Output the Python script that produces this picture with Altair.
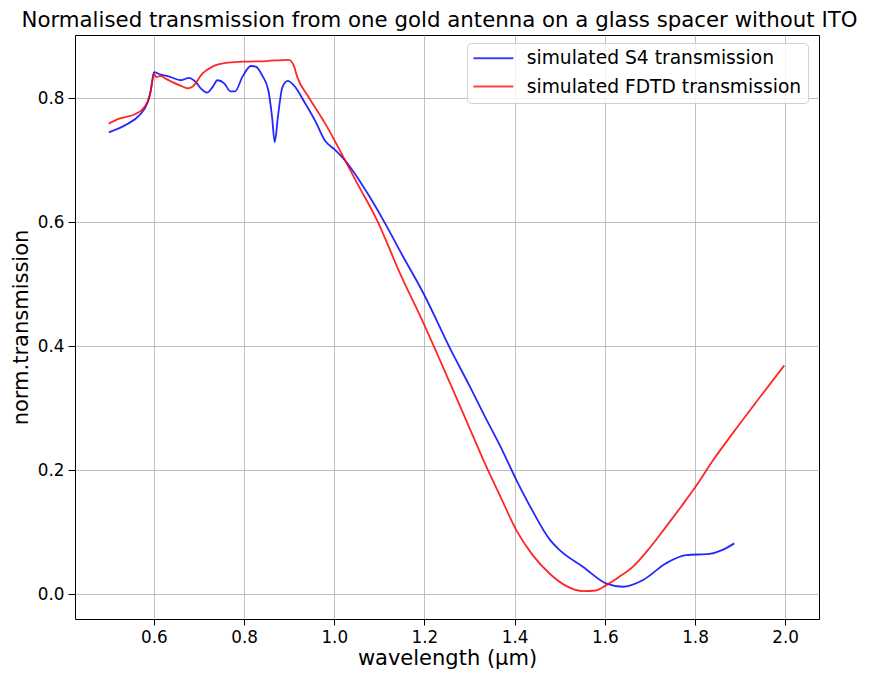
import altair as alt
import pandas as pd

s4_x = [0.50, 0.54, 0.567, 0.586, 0.593, 0.600, 0.615, 0.634, 0.660, 0.678, 0.693, 0.705, 0.718, 0.730,
        0.741, 0.756, 0.770, 0.780, 0.796, 0.815, 0.826, 0.840, 0.854, 0.862, 0.868, 0.875, 0.885,
        0.897, 0.910, 0.936, 0.958, 0.980, 1.000, 1.020, 1.043, 1.075, 1.109, 1.150, 1.198, 1.257,
        1.300, 1.331, 1.370, 1.404, 1.440, 1.478, 1.500, 1.552, 1.604, 1.640, 1.685, 1.736, 1.780,
        1.832, 1.860, 1.887]
s4_y = [0.745, 0.758, 0.772, 0.793, 0.812, 0.842, 0.838, 0.835, 0.829, 0.833, 0.826, 0.815, 0.809, 0.818,
        0.829, 0.824, 0.811, 0.811, 0.834, 0.852, 0.851, 0.837, 0.812, 0.770, 0.729, 0.770, 0.818,
        0.828, 0.821, 0.791, 0.763, 0.731, 0.718, 0.703, 0.681, 0.645, 0.603, 0.548, 0.485, 0.396,
        0.336, 0.291, 0.236, 0.184, 0.134, 0.088, 0.071, 0.044, 0.017, 0.012, 0.023, 0.050, 0.063,
        0.065, 0.071, 0.082]

fdtd_x = [0.50, 0.523, 0.560, 0.579, 0.590, 0.601, 0.605, 0.615, 0.625, 0.641, 0.660, 0.675, 0.686,
          0.708, 0.730, 0.759, 0.796, 0.850, 0.899, 0.910, 0.918, 0.943, 0.980, 1.013, 1.050, 1.095,
          1.146, 1.198, 1.257, 1.300, 1.331, 1.370, 1.404, 1.440, 1.478, 1.515, 1.552, 1.580, 1.604,
          1.630, 1.662, 1.700, 1.736, 1.770, 1.802, 1.840, 1.883, 1.940, 1.998]
fdtd_y = [0.759, 0.767, 0.775, 0.786, 0.802, 0.839, 0.834, 0.836, 0.832, 0.826, 0.820, 0.816, 0.819,
          0.840, 0.851, 0.857, 0.859, 0.860, 0.862, 0.853, 0.834, 0.802, 0.759, 0.715, 0.664, 0.603,
          0.517, 0.437, 0.340, 0.268, 0.216, 0.155, 0.103, 0.063, 0.033, 0.013, 0.005, 0.006, 0.015,
          0.027, 0.044, 0.075, 0.109, 0.142, 0.174, 0.216, 0.259, 0.314, 0.369]

labels = ["simulated S4 transmission", "simulated FDTD transmission"]
x_ticks = [0.6, 0.8, 1.0, 1.2, 1.4, 1.6, 1.8, 2.0]
y_ticks = [0.0, 0.2, 0.4, 0.6, 0.8]

df = pd.concat([
    pd.DataFrame({"wl": s4_x, "t": s4_y, "series": labels[0], "order": range(len(s4_x))}),
    pd.DataFrame({"wl": fdtd_x, "t": fdtd_y, "series": labels[1], "order": range(len(fdtd_x))}),
])

font = "DejaVu Sans"

chart = alt.Chart(df).mark_line(strokeWidth=1.8, opacity=0.85, interpolate="monotone").encode(
    x=alt.X("wl:Q", scale=alt.Scale(domain=[0.425, 2.075], nice=False, zero=False),
            axis=alt.Axis(title="wavelength (µm)", values=x_ticks, format=".1f",
                          titleFontSize=21, titleFontWeight="normal", titlePadding=2,
                          labelFontSize=16.8, tickSize=6, labelPadding=4, grid=True)),
    y=alt.Y("t:Q", scale=alt.Scale(domain=[-0.04, 0.902], nice=False, zero=False),
            axis=alt.Axis(title="norm.transmission", values=y_ticks, format=".1f",
                          titleFontSize=21, titleFontWeight="normal", titlePadding=6,
                          labelFontSize=16.8, tickSize=7, labelPadding=4, grid=True)),
    color=alt.Color("series:N", scale=alt.Scale(domain=labels, range=["#0000ff", "#ff0000"]),
                    legend=alt.Legend(title=None, orient="none", legendX=392, legendY=8,
                                      labelFontSize=18.7, labelFont=font, labelLimit=500,
                                      symbolType="M-1.8,0H6.2", symbolSize=100,
                                      symbolStrokeWidth=2, symbolOpacity=0.75,
                                      rowPadding=8.2, labelOffset=35,
                                      padding=6, strokeColor="#d0d0d0",
                                      fillColor="rgba(255,255,255,0.8)", cornerRadius=4)),
    order="order:Q",
).properties(
    width=744, height=584,
    title=alt.TitleParams("Normalised transmission from one gold antenna on a glass spacer without ITO",
                          fontSize=21.3, fontWeight="normal", font=font, color="black", offset=4, dx=-7.5),
    autosize=alt.AutoSizeParams(type="none"),
    padding={"left": 67, "top": 27, "right": 42, "bottom": 56},
).configure_view(stroke="black", strokeWidth=1).configure_axis(
    labelFont=font, titleFont=font, labelColor="black", titleColor="black",
    domainColor="black", tickColor="black", gridColor="#b0b0b0", gridWidth=0.8, domain=False,
)

chart.save("out.html", embed_options={"renderer": "svg", "actions": False})
